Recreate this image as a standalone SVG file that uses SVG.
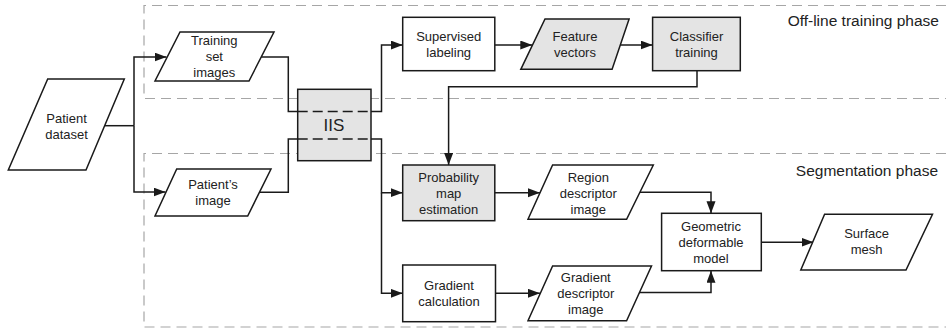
<svg xmlns="http://www.w3.org/2000/svg" width="946" height="329" viewBox="0 0 946 329">
  <style>
    .phase { fill: none; stroke: #a6a6a6; stroke-width: 1.2; stroke-dasharray: 10 6; }
    .box { fill: #ffffff; stroke: #1a1a1a; stroke-width: 1.5; }
    .box.shaded { fill: #e4e4e4; }
    .wire { fill: none; stroke: #1a1a1a; stroke-width: 1.5; }
    .through { fill: none; stroke: #1a1a1a; stroke-width: 1.5; stroke-dasharray: 10 5; }
    text { font-family: "Liberation Sans", Arial, Helvetica, sans-serif; fill: #222; }
    .lbl { font-size: 13px; text-anchor: middle; }
    .big { font-size: 17px; text-anchor: middle; }
    .title { font-size: 15.5px; text-anchor: end; }
  </style>
  <defs>
    <marker id="arrow" markerUnits="userSpaceOnUse" markerWidth="13" markerHeight="10" refX="12" refY="4.5" orient="auto">
      <path d="M0,0 L12,4.5 L0,9 Z" fill="#1a1a1a"/>
    </marker>
  </defs>

  <!-- phase regions -->
  <g id="phases">
    <path class="phase" d="M946,5.5 H144 V98.5 H946"/>
    <path class="phase" d="M946,153.5 H144 V327 H946"/>
    <text class="title" x="939" y="26">Off-line training phase</text>
    <text class="title" x="938" y="175.5">Segmentation phase</text>
  </g>

  <!-- connectors -->
  <g id="connectors">
    <path class="wire" d="M104.7,125.7 H134"/>
    <path class="wire" d="M134,125.7 V57 H166.5" marker-end="url(#arrow)"/>
    <path class="wire" d="M134,125.7 V192 H165.5" marker-end="url(#arrow)"/>
    <path class="wire" d="M261.2,57 H288.3 V111.5 H381.5 V45 H402.7" marker-end="url(#arrow)"/>
    <path class="wire" d="M259.6,192.3 H288.3 V139 H381.5 V192.7 H402.7" marker-end="url(#arrow)"/>
    <path class="wire" d="M381.5,192.7 V293.3 H402.7" marker-end="url(#arrow)"/>
    <path class="wire" d="M494.8,45 H532.3" marker-end="url(#arrow)"/>
    <path class="wire" d="M620.3,45 H652.6" marker-end="url(#arrow)"/>
    <path class="wire" d="M697,70.7 V86.7 H448.6 V165" marker-end="url(#arrow)"/>
    <path class="wire" d="M494.8,192.7 H540" marker-end="url(#arrow)"/>
    <path class="wire" d="M640,192.3 H711 V213.3" marker-end="url(#arrow)"/>
    <path class="wire" d="M495.5,293.3 H540" marker-end="url(#arrow)"/>
    <path class="wire" d="M639,292.5 H711 V270.7" marker-end="url(#arrow)"/>
    <path class="wire" d="M761.6,242.3 H813.5" marker-end="url(#arrow)"/>
  </g>

  <!-- nodes -->
  <g id="patient-dataset">
    <polygon class="box" points="47.7,79 124.3,79 86,170 8.3,170"/>
    <text class="lbl" x="66.6" y="122.7">Patient</text>
    <text class="lbl" x="66.6" y="138.5">dataset</text>
  </g>

  <g id="training-set-images">
    <polygon class="box" points="180,32 274,32 249,81 155,81"/>
    <text class="lbl" x="214.3" y="45">Training</text>
    <text class="lbl" x="214.3" y="61">set</text>
    <text class="lbl" x="214.3" y="76.5">images</text>
  </g>

  <g id="patients-image">
    <polygon class="box" points="176.7,169 271,169 247.7,216 155,216"/>
    <text class="lbl" x="213" y="189">Patient’s</text>
    <text class="lbl" x="213" y="205">image</text>
  </g>

  <g id="iis">
    <rect class="box shaded" x="297.7" y="89.3" width="73.3" height="71.4"/>
    <path class="through" d="M297.7,111.5 H371 M297.7,139 H371"/>
    <text class="big" x="334" y="131">IIS</text>
  </g>

  <g id="supervised-labeling">
    <rect class="box" x="402.7" y="17.3" width="92.1" height="53.4"/>
    <text class="lbl" x="448.7" y="40.7">Supervised</text>
    <text class="lbl" x="448.7" y="56.5">labeling</text>
  </g>

  <g id="feature-vectors">
    <polygon class="box shaded" points="545,19 629.1,19 612.1,69.3 520.8,69.3"/>
    <text class="lbl" x="575" y="40.7">Feature</text>
    <text class="lbl" x="575" y="56.5">vectors</text>
  </g>

  <g id="classifier-training">
    <rect class="box shaded" x="652.6" y="17.3" width="87.7" height="53.4"/>
    <text class="lbl" x="696.5" y="40.7">Classifier</text>
    <text class="lbl" x="696.5" y="56.5">training</text>
  </g>

  <g id="probability-map-estimation">
    <rect class="box shaded" x="402.7" y="165" width="92.1" height="55.7"/>
    <text class="lbl" x="448.7" y="181.5">Probability</text>
    <text class="lbl" x="448.7" y="197.7">map</text>
    <text class="lbl" x="448.7" y="213.8">estimation</text>
  </g>

  <g id="region-descriptor-image">
    <polygon class="box" points="552.6,165 653.3,165 626.6,219.3 528,219.3"/>
    <text class="lbl" x="588.3" y="181.5">Region</text>
    <text class="lbl" x="588.3" y="197.7">descriptor</text>
    <text class="lbl" x="588.3" y="213.8">image</text>
  </g>

  <g id="geometric-deformable-model">
    <rect class="box" x="661.6" y="213.3" width="99.7" height="57.4"/>
    <text class="lbl" x="711" y="230.5">Geometric</text>
    <text class="lbl" x="711" y="246.5">deformable</text>
    <text class="lbl" x="711" y="262.5">model</text>
  </g>

  <g id="surface-mesh">
    <polygon class="box" points="824.6,214.3 932.5,214.3 906,270 800.8,270"/>
    <text class="lbl" x="866.6" y="238">Surface</text>
    <text class="lbl" x="866.6" y="254">mesh</text>
  </g>

  <g id="gradient-calculation">
    <rect class="box" x="402.7" y="265" width="92.8" height="56.7"/>
    <text class="lbl" x="449" y="289.5">Gradient</text>
    <text class="lbl" x="449" y="305.5">calculation</text>
  </g>

  <g id="gradient-descriptor-image">
    <polygon class="box" points="552.6,266 651.5,266 626.6,320.7 528,320.7"/>
    <text class="lbl" x="585.8" y="281.5">Gradient</text>
    <text class="lbl" x="585.8" y="297.5">descriptor</text>
    <text class="lbl" x="585.8" y="313.5">image</text>
  </g>
</svg>
